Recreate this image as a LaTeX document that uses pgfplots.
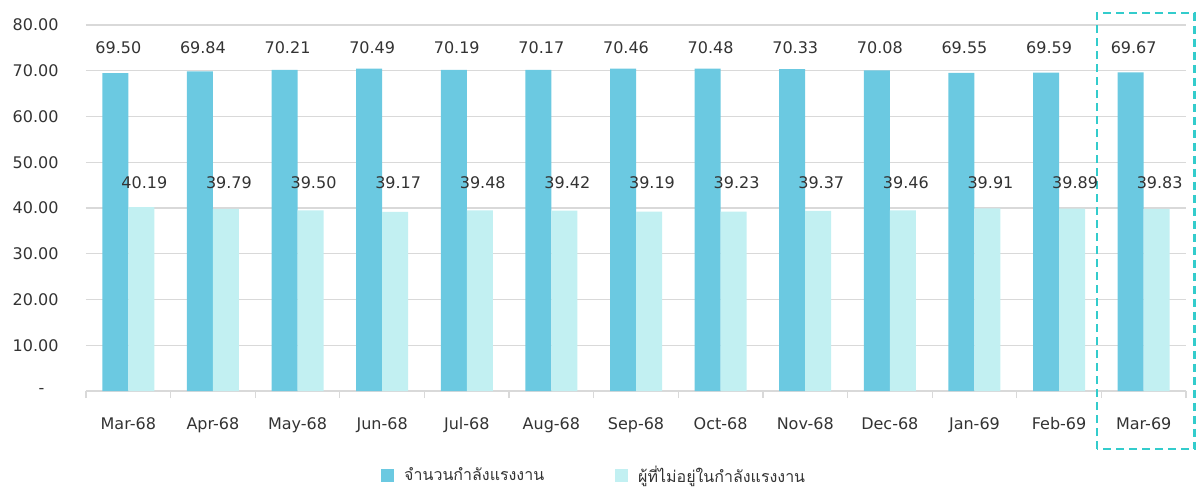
\documentclass[border=0pt]{standalone}
\usepackage{pgfplots}
\pgfplotsset{compat=1.18}
\usepackage{pgfplotstable}
\usepackage{fontspec}
\setmainfont{DejaVu Sans}
\newfontfamily\thaifont[Script=Thai]{Loma}
\definecolor{dark}{HTML}{6BC9E1}
\definecolor{light}{HTML}{C2F0F2}
\definecolor{gridc}{HTML}{D9D9D9}
\definecolor{boxc}{HTML}{33CCCC}
\definecolor{txt}{HTML}{333333}
\pgfplotstableread{
x a b
0 69.50 40.19
1 69.84 39.79
2 70.21 39.50
3 70.49 39.17
4 70.19 39.48
5 70.17 39.42
6 70.46 39.19
7 70.48 39.23
8 70.33 39.37
9 70.08 39.46
10 69.55 39.91
11 69.59 39.89
12 69.67 39.83
}\data
\begin{document}
\begin{tikzpicture}[font=\fontsize{16bp}{19bp}\selectfont, text=txt]
\begin{axis}[
 scale only axis, width=1100bp, height=366bp,
 xmin=-0.5, xmax=12.5, ymin=0, ymax=80,
 xtick={0,...,12},
 xticklabels={Mar-68,Apr-68,May-68,Jun-68,Jul-68,Aug-68,Sep-68,Oct-68,Nov-68,Dec-68,Jan-69,Feb-69,Mar-69},
 major tick length=0pt,
 extra x ticks={-0.5,0.5,...,12.5}, extra x tick labels={},
 extra x tick style={major tick length=7bp, tick align=outside, tick style={draw=gridc, line width=1.2bp}, xmajorgrids=false, ymajorgrids=false, major grid style={draw=none}},
 ytick={0,10,...,80},
 yticklabels={{-\hspace*{14bp}},10.00,20.00,30.00,40.00,50.00,60.00,70.00,80.00},
 ymajorgrids, xmajorgrids=false, y grid style={draw=gridc, line width=1.2bp},
 separate axis lines,
 axis x line*=bottom, axis y line*=left,
 axis line style={-},
 y axis line style={draw=none, opacity=0},
 x axis line style={draw=gridc, line width=1.2bp},
 xticklabel style={yshift=-23bp},
 yticklabel style={xshift=-24bp},
 clip=false,
 legend style={at={(0.462,-0.2295)}, anchor=center, draw=none, fill=none, legend columns=2,
   /tikz/every even column/.append style={column sep=69bp}},
 legend image code/.code={\fill[#1] (0bp,-6.5bp) rectangle (13bp,6.5bp);},
]
\addplot[ybar, bar width=26bp, bar shift=-13bp, fill=dark, draw=none] table[x=x,y=a]{\data};
\addlegendentry{\hspace*{8bp}\thaifont\fontsize{16bp}{19bp}\selectfont จำนวนกำลังแรงงาน}
\addplot[ybar, bar width=26bp, bar shift=13bp, fill=light, draw=none] table[x=x,y=b]{\data};
\addlegendentry{\hspace*{8bp}\thaifont\fontsize{16bp}{19bp}\selectfont ผู้ที่ไม่อยู่ในกำลังแรงงาน}
\addplot[draw=none, mark=none, forget plot, nodes near coords, point meta=explicit symbolic,
  every node near coord/.style={anchor=center, xshift=-10bp, text=txt}] table[x=x, y expr=75, meta=a]{\data};
\addplot[draw=none, mark=none, forget plot, nodes near coords, point meta=explicit symbolic,
  every node near coord/.style={anchor=center, xshift=16bp, text=txt}] table[x=x, y expr=45.5, meta=b]{\data};
\draw[boxc, line width=2.2bp, dash pattern=on 8bp off 5bp] (axis cs:11.45,-12.7) rectangle (axis cs:12.6,82.6);
\path (rel axis cs:0,0) ++(-86bp,-98bp) rectangle ++(1196bp,489bp);
\end{axis}
\end{tikzpicture}
\end{document}
